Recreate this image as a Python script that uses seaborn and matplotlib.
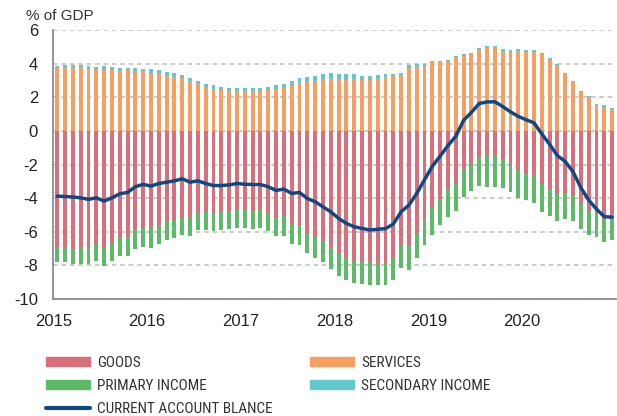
"""Current account balance and its components, % of GDP, monthly 2015-2020."""
import matplotlib
matplotlib.use("Agg")
import matplotlib.pyplot as plt
from matplotlib import font_manager
from matplotlib.font_manager import FontProperties
from matplotlib.patches import Patch
from matplotlib.lines import Line2D
import pandas as pd
import seaborn as sns

MONTHS = pd.date_range("2015-01-01", periods=72, freq="MS").strftime("%Y-%m").tolist()
YEAR_LABELS = ["2015", "2016", "2017", "2018", "2019", "2020", ""]
Y_TICKS = [-10, -8, -6, -4, -2, 0, 2, 4, 6]

GOODS = [
    -6.90, -6.90, -7.02, -6.90, -6.90, -6.70, -6.98, -6.68, -6.37, -6.33, -5.91, -5.75,
    -5.79, -5.62, -5.42, -5.32, -5.14, -5.18, -4.87, -4.83, -4.89, -4.79, -4.75, -4.67,
    -4.71, -4.79, -4.69, -4.89, -5.10, -5.05, -5.50, -5.62, -6.07, -6.33, -6.55, -6.92,
    -7.30, -7.57, -7.79, -7.79, -7.79, -7.87, -7.83, -7.51, -6.80, -6.78, -6.05, -5.26,
    -4.61, -4.06, -3.54, -3.13, -2.28, -1.94, -1.58, -1.48, -1.50, -1.68, -1.94, -2.28,
    -2.49, -2.63, -3.13, -3.47, -3.74, -3.72, -3.82, -4.36, -4.79, -4.93, -5.30, -5.32,
]
PRIMARY_INCOME = [
    -0.89, -0.91, -0.91, -1.01, -1.01, -1.05, -1.03, -1.03, -1.06, -1.10, -1.13, -1.13,
    -1.17, -1.12, -1.08, -1.07, -1.05, -1.05, -1.04, -1.08, -1.08, -1.10, -1.06, -1.10,
    -1.04, -1.02, -1.08, -1.08, -1.17, -1.18, -1.20, -1.18, -1.19, -1.20, -1.26, -1.31,
    -1.30, -1.27, -1.27, -1.29, -1.40, -1.32, -1.32, -1.35, -1.33, -1.48, -1.52, -1.52,
    -1.60, -1.56, -1.56, -1.64, -1.64, -1.66, -1.72, -1.84, -1.82, -1.70, -1.72, -1.72,
    -1.64, -1.68, -1.68, -1.61, -1.62, -1.54, -1.54, -1.47, -1.38, -1.36, -1.32, -1.18,
]
SERVICES = [
    3.72, 3.76, 3.76, 3.76, 3.68, 3.64, 3.64, 3.62, 3.58, 3.60, 3.58, 3.50,
    3.47, 3.41, 3.31, 3.23, 3.13, 2.97, 2.81, 2.61, 2.50, 2.42, 2.38, 2.36,
    2.36, 2.38, 2.36, 2.46, 2.50, 2.57, 2.69, 2.83, 2.95, 2.99, 3.05, 3.09,
    3.05, 3.05, 3.07, 3.03, 3.03, 3.07, 3.20, 3.27, 3.31, 3.74, 3.80, 3.88,
    4.08, 4.08, 4.12, 4.40, 4.48, 4.57, 4.83, 4.93, 4.97, 4.75, 4.73, 4.75,
    4.69, 4.71, 4.55, 4.26, 3.88, 3.41, 2.91, 2.34, 2.00, 1.54, 1.43, 1.33,
]
SECONDARY_INCOME = [
    0.16, 0.16, 0.14, 0.16, 0.16, 0.16, 0.20, 0.18, 0.16, 0.16, 0.16, 0.18,
    0.20, 0.20, 0.18, 0.22, 0.20, 0.20, 0.16, 0.20, 0.20, 0.20, 0.18, 0.20,
    0.20, 0.18, 0.20, 0.16, 0.20, 0.20, 0.26, 0.30, 0.28, 0.30, 0.32, 0.34,
    0.32, 0.32, 0.30, 0.26, 0.22, 0.24, 0.20, 0.14, 0.12, 0.16, 0.16, 0.10,
    0.10, 0.10, 0.10, 0.08, 0.08, 0.08, 0.12, 0.10, 0.10, 0.10, 0.08, 0.10,
    0.10, 0.08, 0.06, 0.06, 0.08, 0.04, 0.04, 0.06, 0.06, 0.06, 0.08, 0.06,
]
CURRENT_ACCOUNT = [
    -3.88, -3.90, -3.93, -3.98, -4.07, -3.98, -4.17, -3.98, -3.74, -3.66, -3.32, -3.18,
    -3.28, -3.13, -3.05, -2.97, -2.85, -3.05, -2.97, -3.13, -3.25, -3.25, -3.21, -3.13,
    -3.17, -3.19, -3.19, -3.32, -3.54, -3.46, -3.72, -3.66, -4.02, -4.21, -4.51, -4.81,
    -5.20, -5.50, -5.70, -5.80, -5.89, -5.85, -5.81, -5.54, -4.81, -4.41, -3.72, -2.90,
    -2.10, -1.50, -0.87, -0.32, 0.63, 1.10, 1.63, 1.72, 1.73, 1.45, 1.13, 0.86,
    0.66, 0.48, -0.18, -0.80, -1.47, -1.82, -2.43, -3.38, -4.11, -4.65, -5.10, -5.13,
]

COLORS = {
    "GOODS": "#D86F7B",
    "SERVICES": "#F59F63",
    "PRIMARY INCOME": "#5DBA67",
    "SECONDARY INCOME": "#63C7CE",
    "CURRENT ACCOUNT BLANCE": "#0D4A85",
}


def pick_family(candidates):
    available = {f.name for f in font_manager.fontManager.ttflist}
    for name in candidates:
        if name in available:
            return name
    return "DejaVu Sans"


def is_regular(f):
    return f.style == "normal" and str(f.weight) in ("400", "normal", "regular", "book")


def condensed_font(size):
    """Find an upright, regular-weight narrow sans face for the legend."""
    entries = [f for f in font_manager.fontManager.ttflist if is_regular(f)]
    for f in entries:
        if f.name in ("Liberation Sans Narrow", "Roboto Condensed", "Open Sans Condensed"):
            return FontProperties(fname=f.fname, size=size)
    for family in ("Roboto", "Noto Sans", "Open Sans", "DejaVu Sans"):
        for f in entries:
            if f.name == family and "condensed" in str(f.stretch).lower():
                return FontProperties(fname=f.fname, size=size)
    return FontProperties(family=pick_family(["Liberation Sans"]), size=size - 1)


def main() -> None:
    sns.set_style("white")
    plt.rcParams["font.family"] = [pick_family(["Liberation Sans", "Arial"]), "DejaVu Sans"]

    fig = plt.figure(figsize=(6.17, 4.16), dpi=100)
    ax = fig.add_axes([0.0864, 0.281, 0.912, 0.647])

    bar_kw = dict(width=0.5, saturation=1, errorbar=None, linewidth=0, ax=ax)
    sns.barplot(x=MONTHS, y=GOODS, color=COLORS["GOODS"], **bar_kw)
    sns.barplot(x=MONTHS, y=PRIMARY_INCOME, bottom=GOODS, color=COLORS["PRIMARY INCOME"], **bar_kw)
    sns.barplot(x=MONTHS, y=SERVICES, color=COLORS["SERVICES"], **bar_kw)
    sns.barplot(x=MONTHS, y=SECONDARY_INCOME, bottom=SERVICES, color=COLORS["SECONDARY INCOME"], **bar_kw)
    sns.lineplot(x=list(range(len(MONTHS))), y=CURRENT_ACCOUNT, color=COLORS["CURRENT ACCOUNT BLANCE"],
                 linewidth=2.5, ax=ax)

    ax.set_xlim(-0.5, len(MONTHS) - 0.5)
    ax.set_xticks([-0.5 + 12 * k for k in range(len(YEAR_LABELS))])
    ax.set_xticklabels(YEAR_LABELS)
    ax.set_ylim(-10, 6)
    ax.set_yticks(Y_TICKS)
    ax.set_yticklabels([str(v) for v in Y_TICKS])
    ax.set_xlabel("")
    ax.set_ylabel("")

    ax.set_axisbelow(True)
    ax.yaxis.grid(True, color="#BDBDBD", linestyle=(0, (3, 2.5)), linewidth=1.1)
    ax.xaxis.grid(False)
    for side in ("top", "right"):
        ax.spines[side].set_visible(False)
    for side in ("left", "bottom"):
        ax.spines[side].set_color("#8C8C8C")
        ax.spines[side].set_linewidth(1.3)

    ax.tick_params(axis="x", direction="in", length=4, width=1.2, color="#8C8C8C",
                   pad=11, labelsize=12, labelcolor="#222222")
    ax.tick_params(axis="y", length=0, pad=11, labelsize=12, labelcolor="#222222")

    fig.text(26 / 617, 1 - 16 / 416, "% of GDP", fontsize=11, color="#333333", va="center")

    left_handles = [
        Patch(color=COLORS["GOODS"], label="GOODS"),
        Patch(color=COLORS["PRIMARY INCOME"], label="PRIMARY INCOME"),
        Line2D([], [], color=COLORS["CURRENT ACCOUNT BLANCE"], linewidth=3, label="CURRENT ACCOUNT BLANCE"),
    ]
    right_handles = [
        Patch(color=COLORS["SERVICES"], label="SERVICES"),
        Patch(color=COLORS["SECONDARY INCOME"], label="SECONDARY INCOME"),
    ]
    leg_kw = dict(loc="upper left", frameon=False, borderpad=0, borderaxespad=0,
                  handlelength=2.9, handleheight=0.6, handletextpad=0.45, labelspacing=0.58,
                  labelcolor="#333333", prop=condensed_font(11))
    fig.legend(handles=left_handles, bbox_to_anchor=(46 / 617, 1 - 356 / 416), **leg_kw)
    fig.legend(handles=right_handles, bbox_to_anchor=(310 / 617, 1 - 356 / 416), **leg_kw)

    fig.savefig("out.png", dpi=100)


if __name__ == "__main__":
    main()
